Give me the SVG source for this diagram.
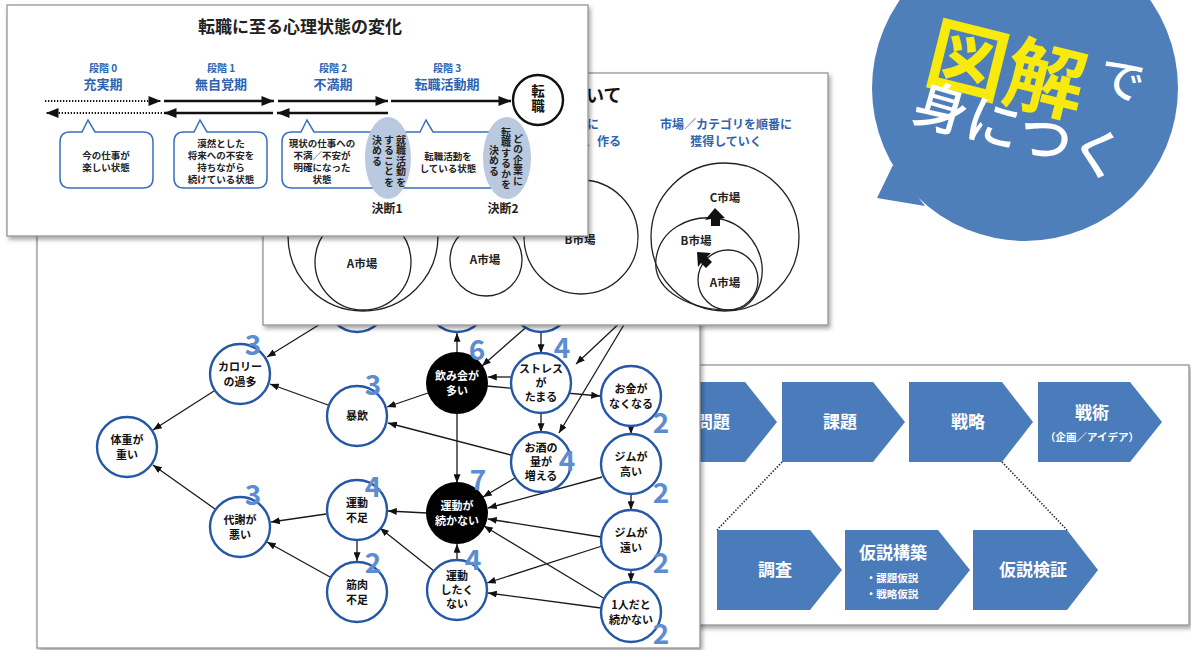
<svg xmlns="http://www.w3.org/2000/svg" width="1191" height="650" viewBox="0 0 1191 650">
<style>
.card{fill:#fff;stroke:#8c8c8c;stroke-width:1.2;filter:url(#sh)}
.t{font-family:"Noto Sans CJK JP","Noto Sans",sans-serif;font-weight:bold;text-anchor:middle}
.nt{font-size:11px;fill:#111}
.wt{font-size:11px;fill:#fff}
.num{font-family:"Noto Sans CJK JP","Noto Sans",sans-serif;font-weight:bold;font-size:28px;fill:#5b8dd0;text-anchor:middle}
.node{fill:#fff;stroke:#2458a6;stroke-width:2.4}
.dark{fill:#000}
.e{stroke:#1a1a1a;stroke-width:1.3;fill:none;marker-end:url(#ah)}
.chev{fill:#4a7cbc}
.ct{font-size:17px;fill:#fff}
.blue{fill:#2e63b0}
.bub{fill:#fff;stroke:#3a6fc0;stroke-width:1.5}
.bt{font-size:9.5px;fill:#222}
.vt{font-family:"Noto Sans CJK JP",sans-serif;font-weight:bold;font-size:10px;fill:#222;writing-mode:vertical-rl;text-anchor:start;letter-spacing:0.5px}
.ell{fill:#b9c9df}
.big{stroke:#111;stroke-width:2.6;fill:none;marker-end:url(#ahb)}
.dot{stroke:#111;stroke-width:2.2;fill:none;stroke-dasharray:1.3 1.7;marker-end:url(#ahb)}
.mc{fill:none;stroke:#222;stroke-width:1.3}
.mt{font-size:11.5px;fill:#222}
</style>
<defs>
<filter id="sh" x="-5%" y="-5%" width="110%" height="115%"><feDropShadow dx="2" dy="3" stdDeviation="2" flood-color="#000" flood-opacity="0.35"/></filter>
<marker id="ah" viewBox="0 0 10 8" refX="10" refY="4" markerWidth="9" markerHeight="7" orient="auto" markerUnits="userSpaceOnUse"><path d="M0,0 L10,4 L0,8 Z" fill="#111"/></marker>
<marker id="ahb" viewBox="0 0 10 8" refX="10" refY="4" markerWidth="13" markerHeight="10" orient="auto" markerUnits="userSpaceOnUse"><path d="M0,0 L10,4 L0,8 Z" fill="#111"/></marker>
</defs>

<!-- Right card: flow chevrons -->
<g id="card-flow">
<rect class="card" x="600" y="365" width="589" height="260"/>
<g id="c-mondai"><path class="chev" d="M600,382 H745 L777,422 L745,462 H600 Z"/><text class="t ct" x="713" y="428">問題</text></g>
<g id="c-kadai"><path class="chev" d="M782,382 H873 L905,422 L873,462 H782 Z"/><text class="t ct" x="840" y="428">課題</text></g>
<g id="c-senryaku"><path class="chev" d="M909,382 H1002 L1033,422 L1002,462 H909 Z"/><text class="t ct" x="968" y="428">戦略</text></g>
<g id="c-senjutsu"><path class="chev" d="M1038,382 H1130 L1162,422 L1130,462 H1038 Z"/><text class="t ct" x="1092" y="419">戦術</text><text class="t" x="1092" y="441" style="font-size:10.5px;fill:#fff">（企画／アイデア）</text></g>
<g id="c-chousa"><path class="chev" d="M717,530 H810 L842,570 L810,610 H717 Z"/><text class="t ct" x="775" y="576">調査</text></g>
<g id="c-kouchiku"><path class="chev" d="M845,530 H938 L970,570 L938,610 H845 Z"/><text class="t ct" x="893" y="559">仮説構築</text><text class="t" x="892" y="582" style="font-size:10.5px;fill:#fff">・課題仮説</text><text class="t" x="892" y="598" style="font-size:10.5px;fill:#fff">・戦略仮説</text></g>
<g id="c-kenshou"><path class="chev" d="M973,530 H1067 L1098,570 L1067,610 H973 Z"/><text class="t ct" x="1033" y="576">仮説検証</text></g>
<g id="flow-connectors">
<line x1="782" y1="462" x2="717" y2="530" stroke="#222" stroke-width="1.6" stroke-dasharray="1.4 1.6"/>
<line x1="1002" y1="462" x2="1067" y2="530" stroke="#222" stroke-width="1.6" stroke-dasharray="1.4 1.6"/>
</g>
</g>

<!-- Graph card -->
<g id="card-graph">
<rect class="card" x="37" y="150" width="663" height="498"/>
<g id="graph-connectors">
<line class="e" x1="330" y1="318" x2="267" y2="357"/>
<line class="e" x1="328" y1="405" x2="270" y2="384"/>
<line class="e" x1="214" y1="391" x2="153" y2="430"/>
<line class="e" x1="215" y1="509" x2="153" y2="465"/>
<line class="e" x1="326" y1="514" x2="271" y2="522"/>
<line class="e" x1="330" y1="577" x2="267" y2="542"/>
<line class="e" x1="357" y1="540" x2="357" y2="561"/>
<line class="e" x1="428" y1="393" x2="387" y2="407"/>
<line class="e" x1="511" y1="455" x2="388" y2="423"/>
<line class="e" x1="457" y1="353" x2="457" y2="333"/>
<line class="e" x1="531" y1="323" x2="482" y2="366"/>
<line class="e" x1="511" y1="377" x2="488" y2="377"/>
<line class="e" x1="487" y1="386" x2="600" y2="396"/>
<line class="e" x1="541" y1="332" x2="541" y2="353"/>
<line class="e" x1="625" y1="318" x2="576" y2="364"/>
<line class="e" x1="628" y1="318" x2="559" y2="433"/>
<line class="e" x1="541" y1="413" x2="541" y2="432"/>
<line class="e" x1="457" y1="413" x2="457" y2="483"/>
<line class="e" x1="515" y1="478" x2="483" y2="497"/>
<line class="e" x1="631" y1="426" x2="631" y2="434"/>
<line class="e" x1="602" y1="477" x2="488" y2="508"/>
<line class="e" x1="631" y1="494" x2="631" y2="510"/>
<line class="e" x1="631" y1="570" x2="631" y2="582"/>
<line class="e" x1="601" y1="537" x2="488" y2="519"/>
<line class="e" x1="602" y1="546" x2="487" y2="583"/>
<line class="e" x1="605" y1="599" x2="484" y2="526"/>
<line class="e" x1="601" y1="608" x2="488" y2="593"/>
<line class="e" x1="457" y1="560" x2="457" y2="544"/>
<line class="e" x1="434" y1="571" x2="380" y2="528"/>
<line class="e" x1="427" y1="513" x2="388" y2="511"/>
</g>
<g id="n-hidden1"><circle class="node" cx="357" cy="302" r="30"/></g>
<g id="n-hidden2"><circle class="node" cx="457" cy="302" r="30"/></g>
<g id="n-hidden3"><circle class="node" cx="541" cy="302" r="30"/></g>
<g id="n-karori"><circle class="node" cx="240" cy="374" r="30"/><text class="t nt" x="240" y="371">カロリー</text><text class="t nt" x="240" y="386">の過多</text></g>
<g id="n-taiju"><circle class="node" cx="127" cy="447" r="30"/><text class="t nt" x="127" y="444">体重が</text><text class="t nt" x="127" y="459">重い</text></g>
<g id="n-taisha"><circle class="node" cx="240" cy="527" r="30"/><text class="t nt" x="240" y="524">代謝が</text><text class="t nt" x="240" y="539">悪い</text></g>
<g id="n-bouin"><circle class="node" cx="357" cy="416" r="30"/><text class="t nt" x="357" y="420">暴飲</text></g>
<g id="n-nomikai"><circle class="dark" cx="457" cy="383" r="31"/><text class="t wt" x="457" y="380">飲み会が</text><text class="t wt" x="457" y="395">多い</text></g>
<g id="n-stress"><circle class="node" cx="541" cy="383" r="30"/><text class="t nt" x="541" y="373">ストレス</text><text class="t nt" x="541" y="387">が</text><text class="t nt" x="541" y="401">たまる</text></g>
<g id="n-okane"><circle class="node" cx="631" cy="396" r="30"/><text class="t nt" x="631" y="393">お金が</text><text class="t nt" x="631" y="408">なくなる</text></g>
<g id="n-osake"><circle class="node" cx="541" cy="462" r="30"/><text class="t nt" x="541" y="452">お酒の</text><text class="t nt" x="541" y="466">量が</text><text class="t nt" x="541" y="480">増える</text></g>
<g id="n-gymtakai"><circle class="node" cx="631" cy="464" r="30"/><text class="t nt" x="631" y="461">ジムが</text><text class="t nt" x="631" y="476">高い</text></g>
<g id="n-tsuzukanai"><circle class="dark" cx="457" cy="513" r="31"/><text class="t wt" x="457" y="510">運動が</text><text class="t wt" x="457" y="525">続かない</text></g>
<g id="n-busoku"><circle class="node" cx="357" cy="510" r="30"/><text class="t nt" x="357" y="507">運動</text><text class="t nt" x="357" y="522">不足</text></g>
<g id="n-gymtooi"><circle class="node" cx="631" cy="540" r="30"/><text class="t nt" x="631" y="537">ジムが</text><text class="t nt" x="631" y="552">遠い</text></g>
<g id="n-kinniku"><circle class="node" cx="357" cy="592" r="30"/><text class="t nt" x="357" y="589">筋肉</text><text class="t nt" x="357" y="604">不足</text></g>
<g id="n-shitakunai"><circle class="node" cx="457" cy="590" r="30"/><text class="t nt" x="457" y="580">運動</text><text class="t nt" x="457" y="594">したく</text><text class="t nt" x="457" y="608">ない</text></g>
<g id="n-hitori"><circle class="node" cx="631" cy="612" r="30"/><text class="t nt" x="631" y="609">1人だと</text><text class="t nt" x="631" y="624">続かない</text></g>
<g id="scores">
<text class="num" x="253" y="355">3</text>
<text class="num" x="253" y="505">3</text>
<text class="num" x="373" y="395">3</text>
<text class="num" x="477" y="360">6</text>
<text class="num" x="562" y="358">4</text>
<text class="num" x="661" y="433">2</text>
<text class="num" x="567" y="471">4</text>
<text class="num" x="661" y="503">2</text>
<text class="num" x="478" y="490">7</text>
<text class="num" x="373" y="497">4</text>
<text class="num" x="661" y="573">2</text>
<text class="num" x="373" y="573">2</text>
<text class="num" x="473" y="570">4</text>
<text class="num" x="661" y="644">2</text>
</g>
</g>

<!-- Market card -->
<g id="card-market">
<rect class="card" x="263" y="73" width="565" height="252"/>
<text class="t" x="586" y="102" style="font-size:18px;fill:#111;text-anchor:start">いて</text>
<text class="t blue" x="587" y="129" style="font-size:12px;text-anchor:start">に</text>
<text class="t blue" x="585" y="146" style="font-size:12px;text-anchor:start">、作る</text>
<text class="t blue" x="726" y="129" style="font-size:12px">市場／カテゴリを順番に</text>
<text class="t blue" x="726" y="146" style="font-size:12px">獲得していく</text>
<g id="m-set1"><circle class="mc" cx="363" cy="236" r="75"/><circle class="mc" cx="363" cy="262" r="48"/><text class="t mt" x="362" y="268">A市場</text></g>
<g id="m-set2"><circle class="mc" cx="486" cy="260" r="36"/><text class="t mt" x="485" y="264">A市場</text><circle class="mc" cx="581" cy="237" r="57"/><text class="t mt" x="580" y="244">B市場</text></g>
<g id="m-set3">
<circle class="mc" cx="725" cy="237" r="74"/>
<path class="mc" d="M733,310 C693,311 652,292 656,259 C660,229 689,216 713,218 C745,220 768,252 761,281 C756,300 745,310 733,310 Z"/>
<circle class="mc" cx="728" cy="280" r="30"/>
<path d="M715,208 L725,218 L720,219 L720,226 L711,226 L711,219 L705,220 Z" fill="#111"/>
<path d="M697,252 L711,253 L707,257 L712,262 L706,268 L701,263 L698,267 Z" fill="#111"/>
<text class="t mt" x="725" y="202">C市場</text>
<text class="t mt" x="696" y="245">B市場</text>
<text class="t mt" x="725" y="287">A市場</text>
</g>
</g>

<!-- Top-left card: psychological stages -->
<g id="card-stages">
<rect class="card" x="7" y="5" width="581" height="231"/>
<text class="t" x="300" y="33" style="font-size:17px;fill:#222">転職に至る心理状態の変化</text>
<g id="stage0"><text class="t blue" x="103" y="72" style="font-size:10px">段階 0</text><text class="t blue" x="103" y="89" style="font-size:13px">充実期</text></g>
<g id="stage1"><text class="t blue" x="221" y="72" style="font-size:10px">段階 1</text><text class="t blue" x="221" y="89" style="font-size:13px">無自覚期</text></g>
<g id="stage2"><text class="t blue" x="333" y="72" style="font-size:10px">段階 2</text><text class="t blue" x="333" y="89" style="font-size:13px">不満期</text></g>
<g id="stage3"><text class="t blue" x="447" y="72" style="font-size:10px">段階 3</text><text class="t blue" x="447" y="89" style="font-size:13px">転職活動期</text></g>
<g id="stage-arrows">
<line class="dot" x1="45" y1="101" x2="161" y2="101"/>
<line class="big" x1="164" y1="101" x2="274" y2="101"/>
<line class="big" x1="278" y1="101" x2="388" y2="101"/>
<line class="big" x1="391" y1="101" x2="511" y2="101"/>
<line class="dot" x1="162" y1="113" x2="46" y2="113"/>
<line class="big" x1="273" y1="113" x2="164" y2="113"/>
<line class="big" x1="388" y1="113" x2="277" y2="113"/>
</g>
<g id="n-tenshoku"><circle cx="538" cy="100" r="25" fill="#fff" stroke="#111" stroke-width="2.4"/><text class="vt" x="538" y="84" style="font-size:13.5px;fill:#111;letter-spacing:2px">転職</text></g>
<g id="bubble0"><path class="bub" d="M70,132 H82 L88,120 L95,132 H143 Q153,132 153,142 V178 Q153,188 143,188 H70 Q60,188 60,178 V142 Q60,132 70,132 Z"/><text class="t bt" x="106" y="159">今の仕事が</text><text class="t bt" x="106" y="171">楽しい状態</text></g>
<g id="bubble1"><path class="bub" d="M184,132 H194 L200,120 L207,132 H257 Q267,132 267,142 V178 Q267,188 257,188 H184 Q174,188 174,178 V142 Q174,132 184,132 Z"/><text class="t bt" x="221" y="147">漠然とした</text><text class="t bt" x="221" y="159">将来への不安を</text><text class="t bt" x="221" y="171">持ちながら</text><text class="t bt" x="221" y="183">続けている状態</text></g>
<g id="bubble2"><path class="bub" d="M395,132 H314 L307,120 L301,132 H292 Q282,132 282,142 V178 Q282,188 292,188 H395"/><text class="t bt" x="322" y="147">現状の仕事への</text><text class="t bt" x="322" y="159">不満／不安が</text><text class="t bt" x="322" y="171">明確になった</text><text class="t bt" x="322" y="183">状態</text></g>
<g id="bubble3"><path class="bub" d="M385,132 H420 L426,120 L433,132 H512 M512,188 H385" fill="none"/><text class="t bt" x="448" y="160">転職活動を</text><text class="t bt" x="448" y="172">している状態</text></g>
<g id="decision1"><ellipse class="ell" cx="388" cy="158" rx="23" ry="41"/>
<text class="vt" x="401" y="135">就職活動を</text>
<text class="vt" x="389" y="135">することを</text>
<text class="vt" x="377" y="135">決める</text>
<text class="t" x="387" y="213" style="font-size:12px;fill:#222">決断1</text></g>
<g id="decision2"><ellipse class="ell" cx="507" cy="158" rx="24" ry="41"/>
<text class="vt" x="518" y="134">どの企業に</text>
<text class="vt" x="506" y="127">転職するかを</text>
<text class="vt" x="494" y="145">決める</text>
<text class="t" x="503" y="213" style="font-size:12px;fill:#222">決断2</text></g>
</g>

<!-- Speech bubble badge -->
<g id="badge">
<circle cx="1025" cy="88" r="153" fill="#4f7fba"/>
<path d="M893,165 L877,198 L925,206 Z" fill="#4f7fba"/>
<text transform="translate(922,79) rotate(14)" style="font-family:'Noto Sans CJK JP',sans-serif;font-weight:bold;font-size:80px;fill:#f7ea0c">図解</text>
<text transform="translate(1095,90) rotate(15)" style="font-family:'Noto Sans CJK JP',sans-serif;font-weight:500;font-size:46px;fill:#fff">で</text>
<text transform="translate(910,120) rotate(16)" style="font-family:'Noto Sans CJK JP',sans-serif;font-weight:500;font-size:54px;fill:#fff">身につく</text>
</g>
</svg>
